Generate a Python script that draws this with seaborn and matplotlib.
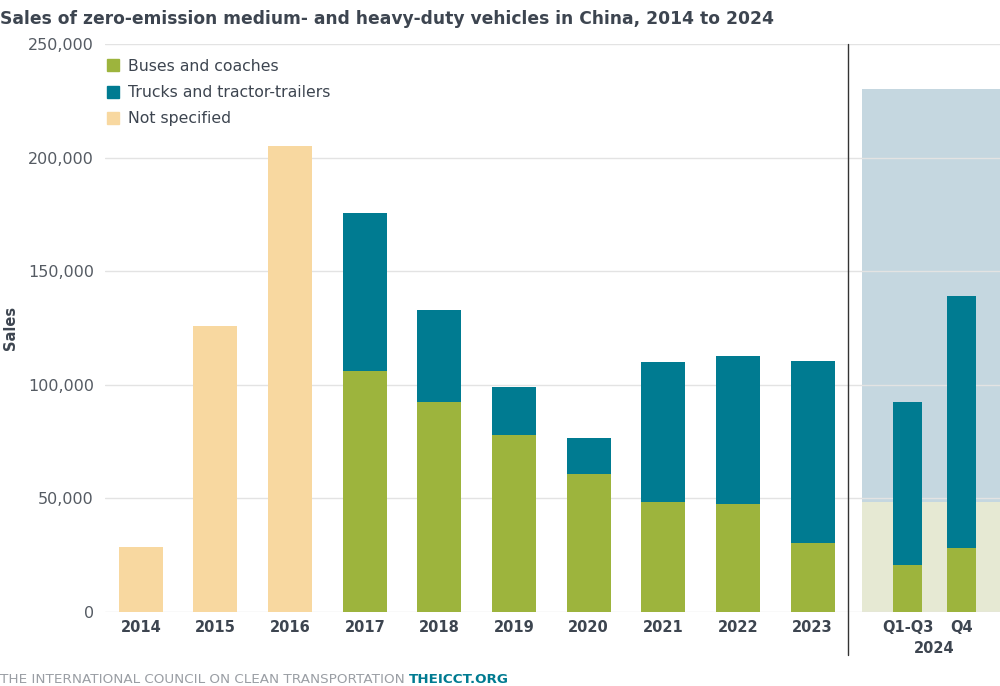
import numpy as np
import pandas as pd
import matplotlib.pyplot as plt
import seaborn as sns
from matplotlib.patches import Patch

# Sales data
years = ['2014', '2015', '2016', '2017', '2018', '2019', '2020', '2021', '2022', '2023']
not_specified = [28600, 125900, 205100, 0, 0, 0, 0, 0, 0, 0]
buses = [0, 0, 0, 106100, 92400, 77900, 60700, 48400, 47500, 30400]
trucks = [0, 0, 0, 69500, 40500, 21100, 15900, 61600, 65200, 80100]

quarters = ['Q1-Q3', 'Q4']
buses_2024 = [20700, 28200]
trucks_2024 = [71700, 110900]

# background band behind 2024
band_low = 48500
band_high = 230200

GREEN = '#9db43d'
TEAL = '#007b91'
TAN = '#f8d8a0'
BAND_BLUE = '#c5d7e0'
BAND_GREEN = '#e6e9d3'
TEXT = '#3d4550'

sns.set_theme(style='white')
plt.rcParams['font.family'] = ['DejaVu Sans']

df = pd.DataFrame({'year': years, 'not_specified': not_specified,
                   'buses': buses, 'trucks': trucks})
df['pos'] = np.arange(len(years), dtype=float)
df['total'] = df['buses'] + df['trucks']

dq = pd.DataFrame({'quarter': quarters, 'buses': buses_2024, 'trucks': trucks_2024})
dq['pos'] = [10.27, 10.99]
dq['total'] = dq['buses'] + dq['trucks']

fig = plt.figure(figsize=(10, 6.86), dpi=100)
ax = fig.add_axes([0.105, 0.108, 0.895, 0.828])

x_left, x_right = -0.48, 11.51
band_x0 = 9.66

# shaded band for 2024
ax.fill_between([band_x0, x_right], 0, band_low, color=BAND_GREEN, lw=0, zorder=0.2)
ax.fill_between([band_x0, x_right], band_low, band_high, color=BAND_BLUE, lw=0, zorder=0.2)

bar_kw = dict(native_scale=True, saturation=1, errorbar=None, linewidth=0, ax=ax, zorder=2)
sns.barplot(data=df, x='pos', y='not_specified', color=TAN, width=0.59, **bar_kw)
sns.barplot(data=df, x='pos', y='total', color=TEAL, width=0.59, **bar_kw)
sns.barplot(data=df, x='pos', y='buses', color=GREEN, width=0.59, **bar_kw)
sns.barplot(data=dq, x='pos', y='total', color=TEAL, width=0.39 / 0.72, **bar_kw)
sns.barplot(data=dq, x='pos', y='buses', color=GREEN, width=0.39 / 0.72, **bar_kw)

ax.set_xlim(x_left, x_right)
ax.set_ylim(0, 250000)
ax.set_yticks(np.arange(0, 250001, 50000))
ax.set_yticklabels([f'{v:,}' for v in range(0, 250001, 50000)], fontsize=11.5, color='#555b63')
ax.set_xticks(list(df['pos']) + list(dq['pos']))
ax.set_xticklabels(years + quarters, fontsize=10.5, fontweight='bold', color=TEXT)
ax.tick_params(axis='x', length=0, pad=6)
ax.tick_params(axis='y', length=0, pad=8)
ax.grid(axis='y', color='#e3e3e3', lw=1)
ax.set_axisbelow(True)
for s in ax.spines.values():
    s.set_visible(False)
ax.set_xlabel('')
ax.set_ylabel('Sales', fontsize=10.5, fontweight='bold', color=TEXT)
ax.yaxis.set_label_coords(-0.097, 0.5)

# divider between annual data and 2024
ax.axvline(9.48, ymin=-0.076, ymax=1.0, color='#333333', lw=1, clip_on=False, zorder=3)
ax.text(np.mean(dq['pos']), -0.065, '2024', transform=ax.get_xaxis_transform(),
        ha='center', va='center', fontsize=10.5, fontweight='bold', color=TEXT)

handles = [Patch(color=GREEN, label='Buses and coaches'),
           Patch(color=TEAL, label='Trucks and tractor-trailers'),
           Patch(color=TAN, label='Not specified')]
leg = ax.legend(handles=handles, loc='upper left', bbox_to_anchor=(-0.005, 0.985),
                frameon=False, fontsize=11.3, handlelength=0.8, handleheight=0.8,
                handletextpad=0.55, labelspacing=0.72, borderaxespad=0)
for t in leg.get_texts():
    t.set_color(TEXT)

fig.text(0.0, 0.985, 'Sales of zero-emission medium- and heavy-duty vehicles in China, 2014 to 2024',
         ha='left', va='top', fontsize=12.3, fontweight='bold', color=TEXT)

foot = fig.text(0.0, 0.0, 'THE INTERNATIONAL COUNCIL ON CLEAN TRANSPORTATION ',
                ha='left', va='bottom', fontsize=9.7, color='#9a9ea4')
fig.canvas.draw()
bb = foot.get_window_extent()
fig.text(bb.x1 / fig.bbox.width, 0.0, 'THEICCT.ORG', ha='left', va='bottom',
         fontsize=9.7, fontweight='bold', color=TEAL)

fig.savefig('out.png', dpi=100)
